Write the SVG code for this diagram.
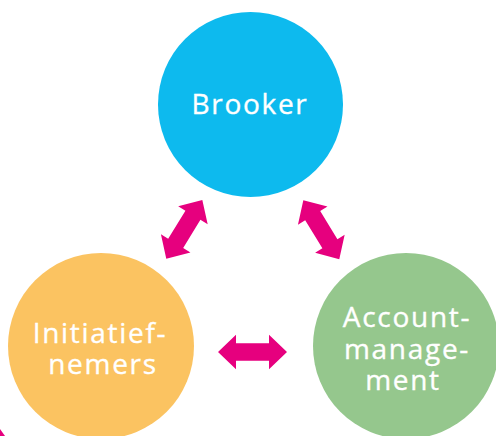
<svg xmlns="http://www.w3.org/2000/svg" width="496" height="436" viewBox="0 0 496 436">
  <style>
    .lbl { font-family: "Open Sans", "Noto Sans", sans-serif; font-size: 28px; font-weight: 400; fill: #ffffff; stroke: #ffffff; stroke-width: 0.35px; letter-spacing: 1.7px; text-anchor: middle; }
    .arrow { fill: #E6007E; }
  </style>
  <defs>
    <path id="dblArrow" d="M-34.5,0 L-16.5,-17.3 L-16.5,-8.8 L16.5,-8.8 L16.5,-17.3 L34.5,0 L16.5,17.3 L16.5,8.8 L-16.5,8.8 L-16.5,17.3 Z"/>
  </defs>
  <rect width="496" height="436" fill="#ffffff"/>
  <g id="brooker">
    <circle cx="250.5" cy="104.5" r="92.5" fill="#0DBAEE"/>
    <text class="lbl" x="250" y="113.5">Brooker</text>
  </g>
  <g id="initiatiefnemers">
    <circle cx="101" cy="346" r="93" fill="#FBC361"/>
    <text class="lbl" x="100" y="343">Initiatief-</text>
    <text class="lbl" x="103" y="374.3">nemers</text>
  </g>
  <g id="accountmanagement">
    <circle cx="406" cy="346" r="93" fill="#95C78D"/>
    <text class="lbl" x="407" y="327">Account-</text>
    <text class="lbl" x="407" y="358.5">manage-</text>
    <text class="lbl" x="403" y="390.2">ment</text>
  </g>
  <g id="connectors">
    <use href="#dblArrow" class="arrow" transform="translate(184.3,229.3) rotate(-58.5)"/>
    <use href="#dblArrow" class="arrow" transform="translate(321.3,229.7) rotate(58.6)"/>
    <use href="#dblArrow" class="arrow" transform="translate(252.5,352)"/>
  </g>
  <path d="M0,429 L5,436 L0,436 Z" fill="#E6007E"/>
</svg>
